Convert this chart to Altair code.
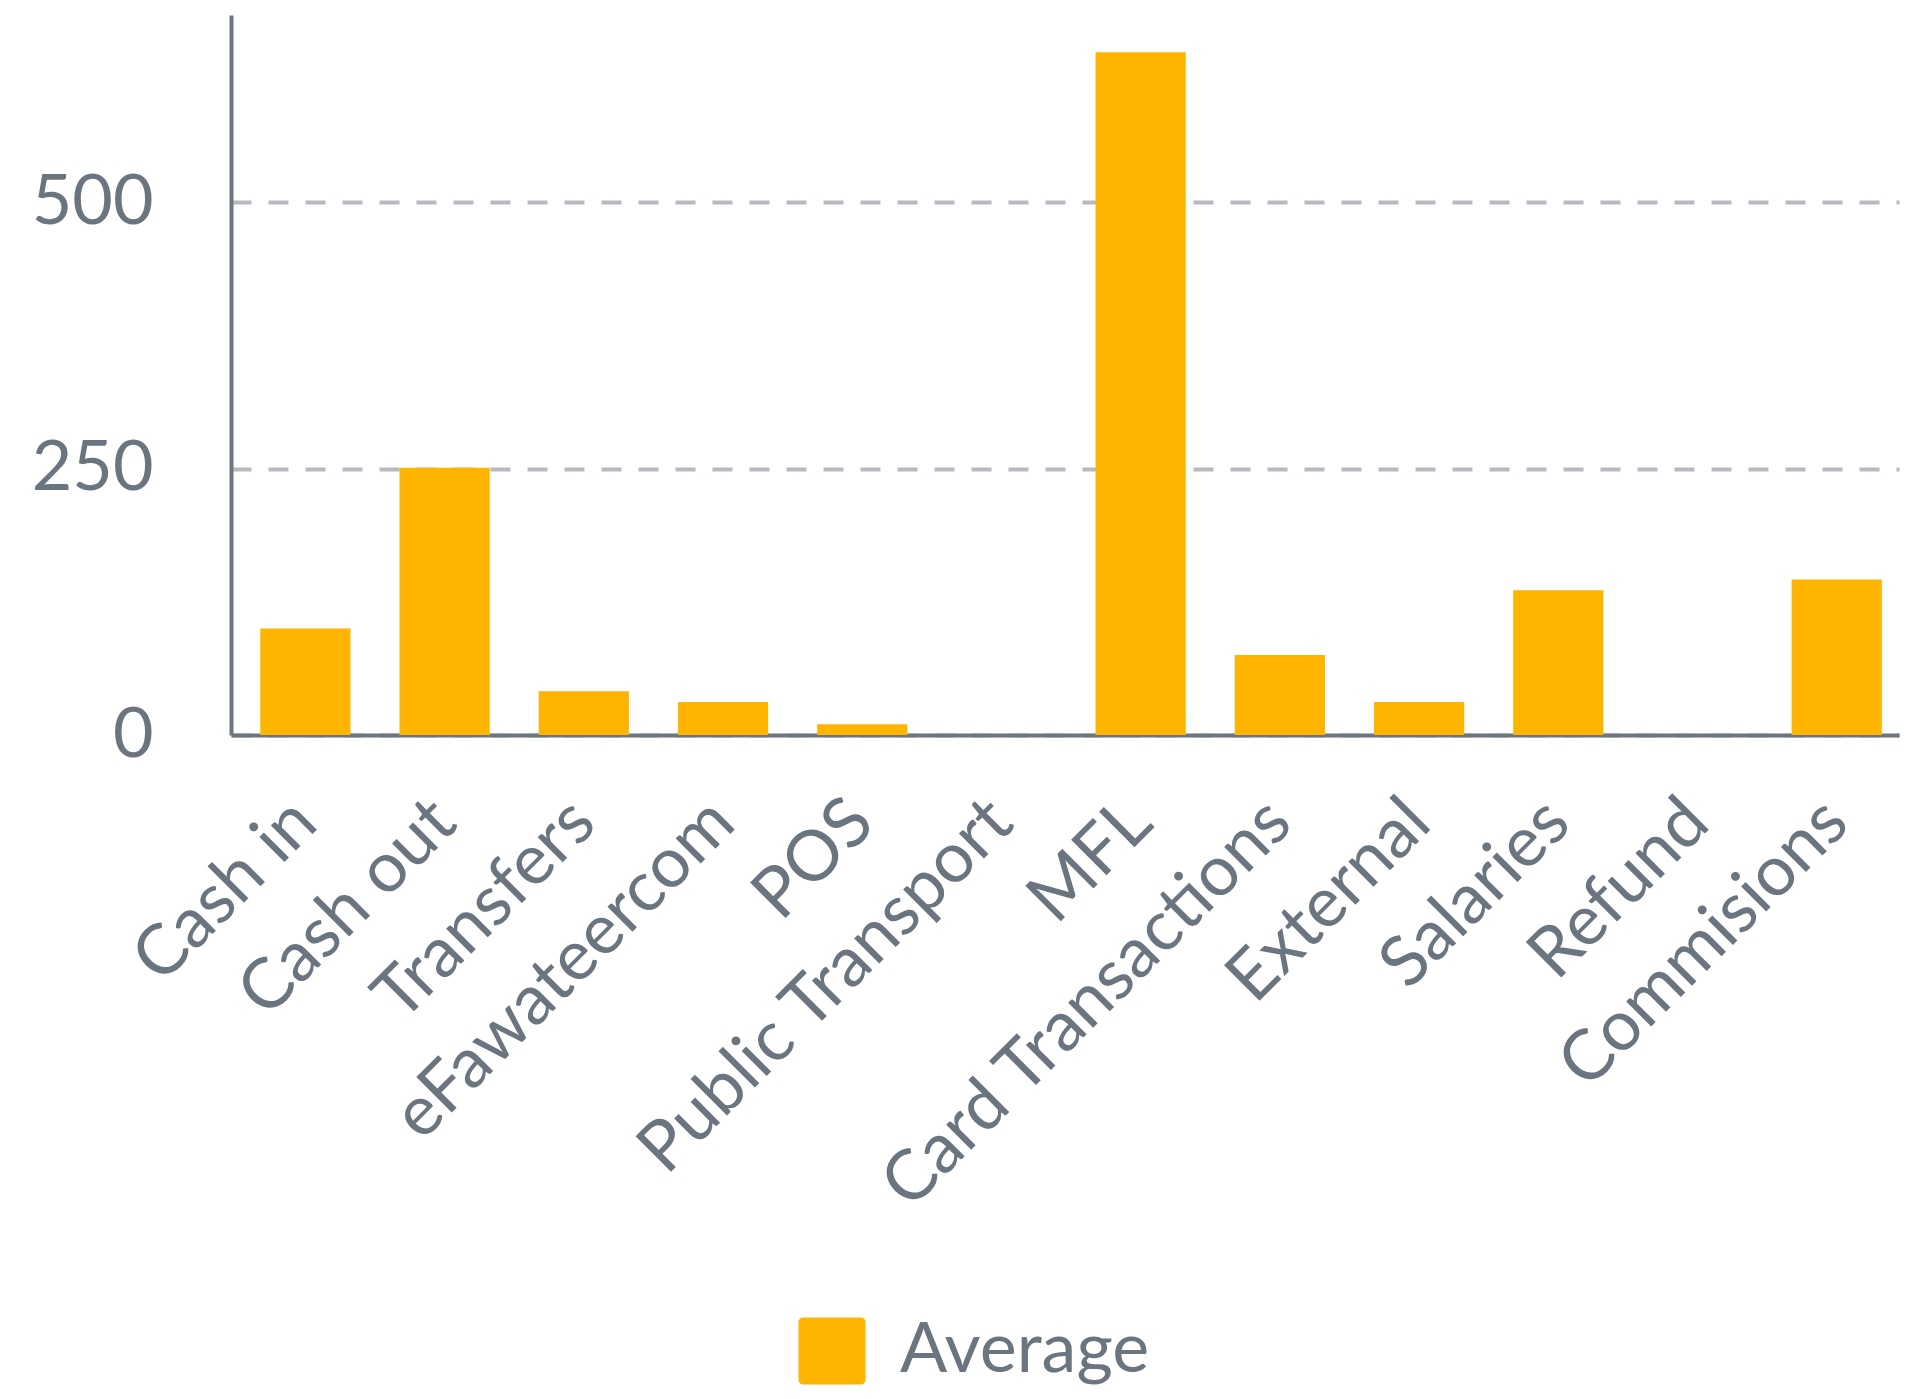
import altair as alt
import pandas as pd

categories = ["Cash in", "Cash out", "Transfers", "eFawateercom", "POS",
              "Public Transport", "MFL", "Card Transactions", "External",
              "Salaries", "Refund", "Commisions"]
values = [100, 251, 41, 31, 10, 0, 641, 75, 31, 136, 0, 146]
series_name = "Average"
y_ticks = [0, 250, 500]

df = pd.DataFrame({"category": categories, "value": values,
                   "series": [series_name] * len(categories)})

BAR = "#ffb400"
TXT = "#6b7580"
AXIS = "#6d757f"
GRID = "#b6bac0"
FONT = "Lato"

rounded_sq = ("M-0.86,-1H0.86A0.14,0.14,0,0,1,1,-0.86V0.86A0.14,0.14,0,0,1,0.86,1"
              "H-0.86A0.14,0.14,0,0,1,-1,0.86V-0.86A0.14,0.14,0,0,1,-0.86,-1Z")

chart = alt.Chart(df).mark_bar().encode(
    x=alt.X("category:N", sort=categories, title=None,
            scale=alt.Scale(paddingInner=0.352, paddingOuter=0.167, align=0.63),
            axis=alt.Axis(labelAngle=315, labelAlign="right", labelBaseline="middle",
                          labelPadding=76, labelFontSize=70, labelFont=FONT,
                          labelColor=TXT, ticks=False, domainColor=AXIS,
                          domainWidth=4, grid=False, labelOverlap=False,
                          labelLimit=0)),
    y=alt.Y("value:Q", title=None,
            scale=alt.Scale(domain=[0, 676], nice=False),
            axis=alt.Axis(values=y_ticks, ticks=False, labelPadding=78,
                          labelFontSize=70, labelFont=FONT, labelColor=TXT,
                          domainColor=AXIS, domainWidth=4,
                          grid=True, gridDash=[20, 17], gridColor=GRID, gridWidth=4)),
    color=alt.Color("series:N",
                    scale=alt.Scale(domain=[series_name], range=[BAR]),
                    legend=alt.Legend(title=None, orient="none", legendX=566, legendY=1301,
                                      symbolType=rounded_sq, symbolSize=4489,
                                      symbolStrokeWidth=0, labelFontSize=70,
                                      labelFont=FONT, labelColor=TXT, labelOffset=33,
                                      padding=0, labelLimit=0)),
).properties(
    width=1668, height=720,
    autosize=alt.AutoSizeParams(type="none"),
    padding={"left": 223, "top": 7, "right": 2, "bottom": 654},
).configure_view(stroke=None)

chart.save("out.html", embed_options={"renderer": "svg", "actions": False})
